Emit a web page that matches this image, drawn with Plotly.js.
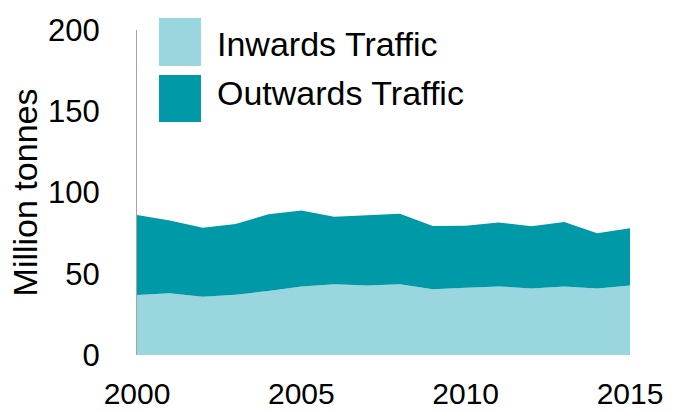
<!DOCTYPE html>
<html>
<head>
<meta charset="utf-8">
<script src="https://cdn.plot.ly/plotly-3.0.1.min.js"></script>
<style>html,body{margin:0;padding:0;background:#fff;}#chart{width:673px;height:412px;}</style>
</head>
<body>
<div id="chart"></div>
<script>
const years = [2000,2001,2002,2003,2004,2005,2006,2007,2008,2009,2010,2011,2012,2013,2014,2015];
const inwards = [36.9,38.0,35.9,37.1,39.4,42.1,43.5,42.7,43.5,40.4,41.4,42.2,41.0,42.2,41.0,42.7];
const outwards = [49.3,44.7,42.4,43.5,47.2,46.9,41.6,43.5,43.5,39.0,38.2,39.4,38.2,39.6,33.9,35.3];
const seriesNames = ["Inwards Traffic","Outwards Traffic"];
const xTicks = [2000,2005,2010,2015];
const yTicks = [0,50,100,150,200];

const colors = ["#9ad6de","#0099a8"];
const font = "Liberation Sans, Arial, sans-serif";

const traces = [
  {x: years, y: inwards, name: seriesNames[0], type: "scatter", mode: "lines", stackgroup: "one",
   line: {width: 0, color: colors[0]}, fillcolor: colors[0], showlegend: false, hoverinfo: "x+y"},
  {x: years, y: outwards, name: seriesNames[1], type: "scatter", mode: "lines", stackgroup: "one",
   line: {width: 0, color: colors[1]}, fillcolor: colors[1], showlegend: false, hoverinfo: "x+y"}
];

const legendShapes = [
  {type: "rect", xref: "paper", yref: "paper", x0: 0.0446, x1: 0.1298, y0: 1.037, y1: 0.889, fillcolor: colors[0], line: {width: 0}},
  {type: "rect", xref: "paper", yref: "paper", x0: 0.0446, x1: 0.1298, y0: 0.8615, y1: 0.717, fillcolor: colors[1], line: {width: 0}}
];
const legendText = [
  {xref: "paper", yref: "paper", x: 0.158, y: 0.957, text: seriesNames[0], showarrow: false, xanchor: "left", yanchor: "middle", font: {family: font, size: 34, color: "#000"}},
  {xref: "paper", yref: "paper", x: 0.158, y: 0.807, text: seriesNames[1], showarrow: false, xanchor: "left", yanchor: "middle", font: {family: font, size: 34, color: "#000"}}
];

const layout = {
  width: 673, height: 412,
  margin: {l: 137, r: 43, t: 30, b: 57, pad: 0},
  paper_bgcolor: "#fff", plot_bgcolor: "#fff",
  showlegend: false,
  font: {family: font, color: "#000"},
  xaxis: {
    range: [2000, 2015], tickvals: xTicks, ticktext: xTicks.map(String),
    showgrid: false, zeroline: false, showline: false, ticks: "",
    tickfont: {family: font, size: 30, color: "#000"}, ticklabelstandoff: 18, fixedrange: true
  },
  yaxis: {
    range: [0, 200], tickvals: yTicks, ticktext: yTicks.map(String),
    showgrid: false, zeroline: false, showline: true, linecolor: "#a6a6a6", linewidth: 1,
    ticks: "", tickfont: {family: font, size: 31, color: "#000"}, ticklabelstandoff: 30,
    title: {text: "Million tonnes", font: {family: font, size: 34, color: "#000"}, standoff: 0},
    fixedrange: true
  },
  shapes: legendShapes,
  annotations: legendText
};

Plotly.newPlot("chart", traces, layout, {displayModeBar: false, staticPlot: true});
</script>
</body>
</html>
